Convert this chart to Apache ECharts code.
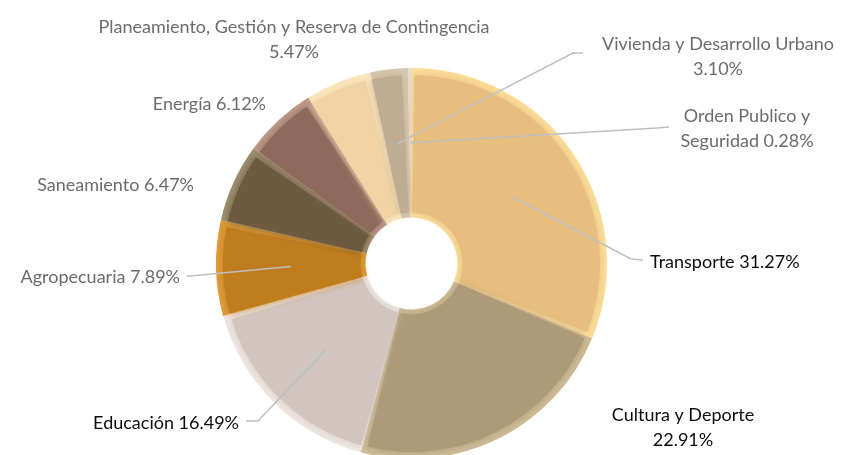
<!DOCTYPE html>
<html>
<head>
<meta charset="utf-8">
<script src="https://cdn.jsdelivr.net/npm/echarts@6/dist/echarts.min.js"></script>
<style>
  html, body { margin: 0; padding: 0; background: #ffffff; }
  #chart { width: 845px; height: 455px; }
</style>
</head>
<body>
<div id="chart"></div>
<script>
// Budget share by sector (percent of total)
const categories = [
  'Transporte',
  'Cultura y Deporte',
  'Educación',
  'Agropecuaria',
  'Saneamiento',
  'Energía',
  'Planeamiento, Gestión y Reserva de Contingencia',
  'Vivienda y Desarrollo Urbano',
  'Orden Publico y Seguridad'
];
const shares = [31.27, 22.91, 16.49, 7.89, 6.47, 6.12, 5.47, 3.10, 0.28];

// How each label wraps: 0 = one line, -1 = value on its own line, n = break after n words
const labelBreaks = [0, -1, 0, 0, 0, 0, -1, -1, 3];

// Slice fills and their bevel highlight tones
const baseColors = ['#E8BE7E', '#AD9A78', '#D2C5BF', '#C07D1D', '#6D5A40', '#8C6B5D', '#F1D3A6', '#BEAD92', '#D9D0C8'];
const edgeColors = ['#FADC98', '#CDBB96', '#EFE6E1', '#DE9C38', '#9C8E6E', '#BE9889', '#FCE5BD', '#D6C8B0', '#E2DAD3'];
const labelColors = ['#0d0d0d', '#0d0d0d', '#0d0d0d', '#6b6b6b', '#6b6b6b', '#6b6b6b', '#6b6b6b', '#6b6b6b', '#6b6b6b'];

// Label anchors: [x, y, align]
const labelAnchors = [
  [650, 262, 'left'],
  [683, 428, 'center'],
  [239, 423, 'right'],
  [180, 277, 'right'],
  [194, 185, 'right'],
  [266, 104, 'right'],
  [294, 40, 'center'],
  [718, 57, 'center'],
  [747, 129, 'center']
];
// Leader line elbow and end points (null = no leader)
const leaderEnds = [
  [[631, 259], [643, 260]],
  null,
  [[258, 421], [246, 421]],
  [[190, 276], [187, 276]],
  null,
  null,
  null,
  [[573, 53], [583, 53]],
  [[657, 128], [669, 127]]
];

const CX = 411.5, CY = 263.5, R_IN = 46, R_OUT = 195.5;
const total = shares.reduce((a, b) => a + b, 0);

// Mid-angle of each slice (clockwise from 12 o'clock), in radians
const midAngles = [];
{
  let acc = 0;
  shares.forEach(v => {
    midAngles.push(((acc + v / 2) / total) * Math.PI * 2);
    acc += v;
  });
}

function labelText(i) {
  const name = categories[i];
  const val = shares[i].toFixed(2) + '%';
  const b = labelBreaks[i];
  if (b === 0) return name + ' ' + val;
  if (b === -1) return name + '\n' + val;
  const words = name.split(' ');
  return words.slice(0, b).join(' ') + '\n' + words.slice(b).join(' ') + ' ' + val;
}

const chart = echarts.init(document.getElementById('chart'), null, { renderer: 'canvas' });

// Bottom ring: bevel highlight tone, full size
const bevelData = categories.map((name, i) => ({
  name, value: shares[i],
  itemStyle: { color: edgeColors[i] }
}));

// Middle ring: slice faces, inset so the bevel shows along every edge
const faceData = categories.map((name, i) => ({
  name, value: shares[i],
  itemStyle: { color: baseColors[i], shadowColor: baseColors[i], shadowBlur: 7 }
}));

// Top ring: transparent, carries the labels and leader lines above the faces
const labelData = categories.map((name, i) => ({
  name, value: shares[i],
  label: { color: labelColors[i] },
  labelLine: { show: leaderEnds[i] !== null }
}));

chart.setOption({
  animation: false,
  backgroundColor: '#ffffff',
  series: [
    {
      type: 'pie',
      silent: true,
      z: 1,
      center: [CX, CY],
      radius: [R_IN, R_OUT],
      startAngle: 90,
      clockwise: true,
      label: { show: false },
      labelLine: { show: false },
      data: bevelData
    },
    {
      type: 'pie',
      silent: true,
      z: 2,
      center: [CX, CY],
      radius: [R_IN + 5, R_OUT - 7],
      startAngle: 90,
      clockwise: true,
      padAngle: 2,
      label: { show: false },
      labelLine: { show: false },
      data: faceData
    },
    {
      type: 'pie',
      z: 5,
      center: [CX, CY],
      radius: [R_IN, R_OUT],
      startAngle: 90,
      clockwise: true,
      avoidLabelOverlap: false,
      itemStyle: { color: 'rgba(0,0,0,0)' },
      emphasis: { disabled: true },
      label: {
        show: true,
        position: 'outside',
        fontFamily: 'Lato',
        fontSize: 18,
        lineHeight: 25,
        formatter: p => labelText(p.dataIndex)
      },
      labelLine: {
        show: true,
        showAbove: true,
        lineStyle: { color: '#BCC0C4', width: 1.5 }
      },
      labelLayout: p => {
        const i = p.dataIndex;
        const a = labelAnchors[i];
        const out = { x: a[0], y: a[1], align: a[2], verticalAlign: 'middle' };
        const le = leaderEnds[i];
        if (le) {
          const rm = (R_IN + R_OUT) / 2;
          const start = [CX + rm * Math.sin(midAngles[i]), CY - rm * Math.cos(midAngles[i])];
          out.labelLinePoints = [start, le[0], le[1]];
        }
        return out;
      },
      data: labelData
    }
  ]
});
</script>
</body>
</html>
